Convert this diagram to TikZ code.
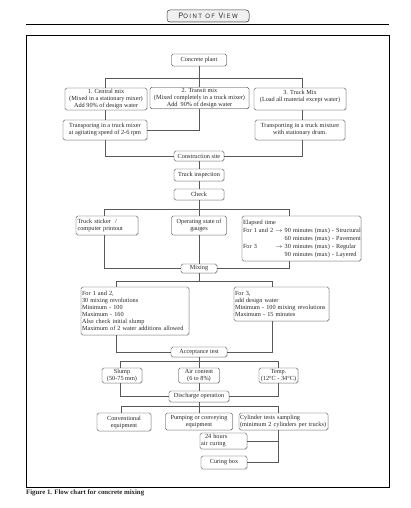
\documentclass[tikz,border=0pt]{standalone}
\usepackage{fontspec}
\setmainfont{Liberation Serif}
\newfontfamily\povfont[LetterSpace=25]{TeX Gyre Heros}
\usetikzlibrary{shadows}
\newcommand\fs{\fontsize{6.25pt}{7pt}\selectfont}
\newcommand\capfont{\fontsize{6.8pt}{7pt}\selectfont\bfseries}
\newcommand\bx[7]{\node[box,minimum width={#3-#2},minimum height={#5-#4},#6] (#1) at ({(#2+#3)/2},{(#4+#5)/2}) {#7};}
\begin{document}
\begin{tikzpicture}[x=1pt,y=-1pt,
  box/.style={draw=black!80, line width=0.45pt, rounded corners=1.6pt, fill=white, inner sep=1pt,
    align=center, font=\fs, text=black!85,
    drop shadow={shadow xshift=0.5pt, shadow yshift=-0.5pt, opacity=0.3}},
  conn/.style={draw=black!65, line width=0.6pt},
  povbox/.style={draw=black!75, line width=0.5pt, rounded corners=3pt, fill=black!6,
    minimum width=82pt, minimum height=12pt, inner sep=0pt, text=black!80,
    drop shadow={shadow xshift=0.7pt, shadow yshift=-0.7pt, opacity=0.35}}]
\useasboundingbox (0,0) rectangle (410,508);
\fill[white] (0,0) rectangle (410,508);

% header
\node[povbox] (pov) at (208,16) {\povfont{\fontsize{7.5pt}{8pt}\selectfont P}{\fontsize{6pt}{8pt}\selectfont OINT OF }{\fontsize{7.5pt}{8pt}\selectfont V}{\fontsize{6pt}{8pt}\selectfont IEW}};
\draw[line width=0.7pt] (26,24) -- (389,24);
\draw[line width=0.7pt] (26,35) rectangle (389,487);

% boxes
\bx{plant}{171.5}{226.5}{54}{66}{}{Concrete plant}
\bx{b1}{65}{147}{88}{110}{}{1. Central mix\\(Mixed in a stationary mixer)\\Add 90\% of design water}
\bx{b2}{150}{249}{88}{108}{}{2. Transit mix\\(Mixed completely in a truck mixer)\\Add\ \ 90\% of design water}
\bx{b3}{254}{346}{88}{110}{}{3. Truck Mix\\(Load all material except water)\\\mbox{}}
\bx{b1b}{63}{147}{120}{140}{}{Transporing in a truck mixer\\at agitating speed of 2-6 rpm}
\bx{b3b}{255}{345}{120}{140}{}{Transporting in a truck mixture\\with stationary drum.}
\bx{site}{174}{224}{151}{161}{}{Construction site}
\bx{insp}{174}{224}{169}{181}{}{Truck inspection}
\bx{check}{174}{224}{189}{200}{}{Check}
\bx{stick}{76}{138}{216}{235}{align=left,text width=59pt}{Truck sticker\ \ /\\computer printout}
\bx{gauge}{171.5}{226.5}{216}{235}{}{Operating state of\\gauges}
\bx{elap}{242}{361}{216}{261}{align=left,text width=117pt}{{\renewcommand\arraystretch{1.15}\begin{tabular}{@{}l@{\ }l@{\ }l@{}}
\multicolumn{3}{@{}l@{}}{Elapsed time}\\
For 1 and 2 & $\rightarrow$ & 90 minutes (max) - Structural\\
 & & 60 minutes (max) - Pavement\\
For 3 & $\rightarrow$ & 30 minutes (max) - Regular\\
 & & 90 minutes (max) - Layered
\end{tabular}}}
\bx{mix}{181}{217}{264}{273}{}{Mixing}
\bx{boxa}{81}{189}{287}{335}{align=left,text width=106pt}{For 1 and 2,\\30 mixing revolutions\\Minimum - 100\\Maximum - 160\\Also check initial slump\\Maximum of 2 water additions allowed}
\bx{boxb}{234}{329}{287}{321}{align=left,text width=93pt}{For 3,\\add design water\\Minimum - 100 mixing revolutions\\Maximum - 15 minutes}
\bx{acc}{171}{227}{347}{357}{}{Acceptance test}
\bx{slump}{102}{142}{368}{383}{}{Slump\\(50-75 mm)}
\bx{air}{178.5}{219.5}{368}{383}{}{Air content\\(6 to 8\%)}
\bx{temp}{259}{298}{368}{383}{}{Temp.\\(12°C - 34°C)}
\bx{dis}{169}{229}{391}{402}{}{Discharge operation}
\bx{conv}{97}{151}{413}{431}{}{Conventional\\equipment}
\bx{pump}{165.5}{232.5}{413}{430}{}{Pumping or conveying\\equipment}
\bx{cyl}{239}{328}{413}{430}{align=left,text width=87pt}{Cylinder tests sampling\\(minimum 2 cylinders per trucks)}
\bx{hrs}{200}{247}{433}{449}{align=left,text width=45pt}{\hspace*{4pt}24 hours\\air curing}
\bx{cur}{201}{247}{456}{469}{}{Curing box}

% connectors
\coordinate (j1) at (199,78);
\coordinate (j1l) at (105,78);
\coordinate (j1r) at (302,78);
\draw[conn] (plant) -- (j1);
\draw[conn] (j1l) -- (j1r);
\draw[conn] (j1l) -- (j1l |- b1.north);
\draw[conn] (j1) -- (j1 |- b2.north);
\draw[conn] (j1r) -- (j1r |- b3.north);
\draw[conn] (j1l |- b1.south) -- (j1l |- b1b.north);
\draw[conn] (j1 |- b2.south) |- (b1b.east);
\draw[conn] (j1r |- b3.south) -- (j1r |- b3b.north);
\draw[conn] (b1b.south) |- (site.west);
\draw[conn] (j1r |- b3b.south) |- (site.east);
\draw[conn] (site) -- (insp);
\draw[conn] (insp) -- (check);

\coordinate (j2) at (199,209);
\coordinate (j2l) at (104,209);
\coordinate (j2r) at (289,209);
\draw[conn] (check) -- (j2);
\draw[conn] (j2l) -- (j2r);
\draw[conn] (j2l) -- (j2l |- stick.north);
\draw[conn] (j2) -- (j2 |- gauge.north);
\draw[conn] (j2r) -- (j2r |- elap.north);
\draw[conn] (j2l |- stick.south) |- (mix.west);
\draw[conn] (j2 |- gauge.south) -- (j2 |- mix.north);
\draw[conn] (j2r |- elap.south) |- (mix.east);

\coordinate (j3) at (199,281);
\coordinate (j3l) at (116,281);
\coordinate (j3r) at (272,281);
\draw[conn] (mix) -- (j3);
\draw[conn] (j3l) -- (j3r);
\draw[conn] (j3l) -- (j3l |- boxa.north);
\draw[conn] (j3r) -- (j3r |- boxb.north);
\draw[conn] (j3l |- boxa.south) |- (acc.west);
\draw[conn] (j3r |- boxb.south) |- (acc.east);

\coordinate (j4) at (199,361);
\coordinate (j4l) at (120,361);
\coordinate (j4r) at (278,361);
\draw[conn] (acc) -- (j4);
\draw[conn] (j4l) -- (j4r);
\draw[conn] (j4l) -- (j4l |- slump.north);
\draw[conn] (j4) -- (j4 |- air.north);
\draw[conn] (j4r) -- (j4r |- temp.north);
\draw[conn] (j4l |- slump.south) |- (dis.west);
\draw[conn] (j4 |- air.south) -- (j4 |- dis.north);
\draw[conn] (j4r |- temp.south) |- (dis.east);

\coordinate (j5) at (199,406);
\coordinate (j5l) at (121,406);
\coordinate (j5r) at (278,406);
\draw[conn] (dis) -- (j5);
\draw[conn] (j5l) -- (j5r);
\draw[conn] (j5l) -- (j5l |- conv.north);
\draw[conn] (j5) -- (j5 |- pump.north);
\draw[conn] (j5r) -- (j5r |- cyl.north);
\draw[conn] (j5r |- cyl.south) |- (cur.east);
\draw[conn] (hrs.east) -- (hrs.east -| j5r);

% caption
\node[anchor=west, font=\capfont, inner sep=0pt, text=black!85] (cap) at (26,493) {Figure 1. Flow chart for concrete mixing};
\end{tikzpicture}
\end{document}
